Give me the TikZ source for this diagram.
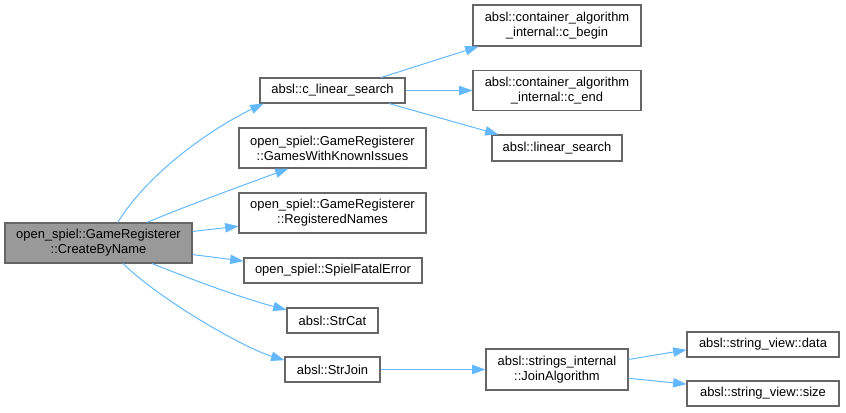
\documentclass[tikz,border=0pt]{standalone}
\usepackage{fontspec}
\setmainfont{Liberation Sans}
\usetikzlibrary{arrows.meta}
\definecolor{callblue}{HTML}{63B8FF}
\definecolor{boxgrey}{HTML}{666666}
\definecolor{rootgrey}{HTML}{999999}
\begin{document}
\begin{tikzpicture}[x=0.75pt, y=0.75pt, >={Triangle[length=10pt,width=7pt]},
    fn/.style 2 args={draw=boxgrey, line width=0.8pt, fill=white, inner sep=0pt,
        align=center, minimum width=#1, minimum height=#2,
        font=\fontsize{9.7}{11.25}\selectfont},
    call/.style={->, draw=callblue, line width=0.75pt}]
    \useasboundingbox (0,0) rectangle (846,-412);

    \node[fn={140.25pt}{30pt}, fill=rootgrey] (root) at (98.5,-243) {open\_spiel::GameRegisterer\\::CreateByName};
    \node[fn={108.75pt}{18.75pt}] (clin) at (332.5,-90.5) {absl::c\_linear\_search};
    \node[fn={140.25pt}{30pt}] (gwki) at (332.5,-148) {open\_spiel::GameRegisterer\\::GamesWithKnownIssues};
    \node[fn={140.25pt}{30pt}] (regn) at (332.5,-213) {open\_spiel::GameRegisterer\\::RegisteredNames};
    \node[fn={133.5pt}{18.75pt}] (sfe) at (333,-270.5) {open\_spiel::SpielFatalError};
    \node[fn={68.25pt}{18.75pt}] (strcat) at (332.5,-320.5) {absl::StrCat};
    \node[fn={71.25pt}{18.75pt}] (strjoin) at (332.5,-369.5) {absl::StrJoin};
    \node[fn={126pt}{30.75pt}] (cbegin) at (557,-25.5) {absl::container\_algorithm\\\_internal::c\_begin};
    \node[fn={126pt}{30pt}] (cend) at (557,-90.5) {absl::container\_algorithm\\\_internal::c\_end};
    \node[fn={97.5pt}{19.5pt}] (linsearch) at (557,-148) {absl::linear\_search};
    \node[fn={106.5pt}{30.75pt}] (joinalg) at (557,-369.5) {absl::strings\_internal\\::JoinAlgorithm};
    \node[fn={114pt}{18.75pt}] (svdata) at (763,-344.5) {absl::string\_view::data};
    \node[fn={114pt}{18.75pt}] (svsize) at (763,-393.5) {absl::string\_view::size};

    \draw[call] (root.47) .. controls +(33,53) and +(-48,-23) .. ([xshift=3pt]clin.south west);
    \draw[call] (root.23) .. controls +(40,17) and +(-35,-13) .. (gwki.205);
    \draw[call] (root.7) -- (regn.188);
    \draw[call] (root.353) -- (sfe.174);
    \draw[call] (root.339) .. controls +(45,-18) and +(-45,12) .. (strcat.167);
    \draw[call] (root.320) .. controls +(38,-37) and +(-40,12) .. (strjoin.169);
    \draw[call] (clin.15) -- (cbegin.195.5);
    \draw[call] (clin.east) -- (cend.west);
    \draw[call] (clin.347) -- (linsearch.167);
    \draw[call] (strjoin.east) -- (joinalg.west);
    \draw[call] (joinalg.8) -- (svdata.184);
    \draw[call] (joinalg.353) -- (svsize.173);
\end{tikzpicture}
\end{document}
